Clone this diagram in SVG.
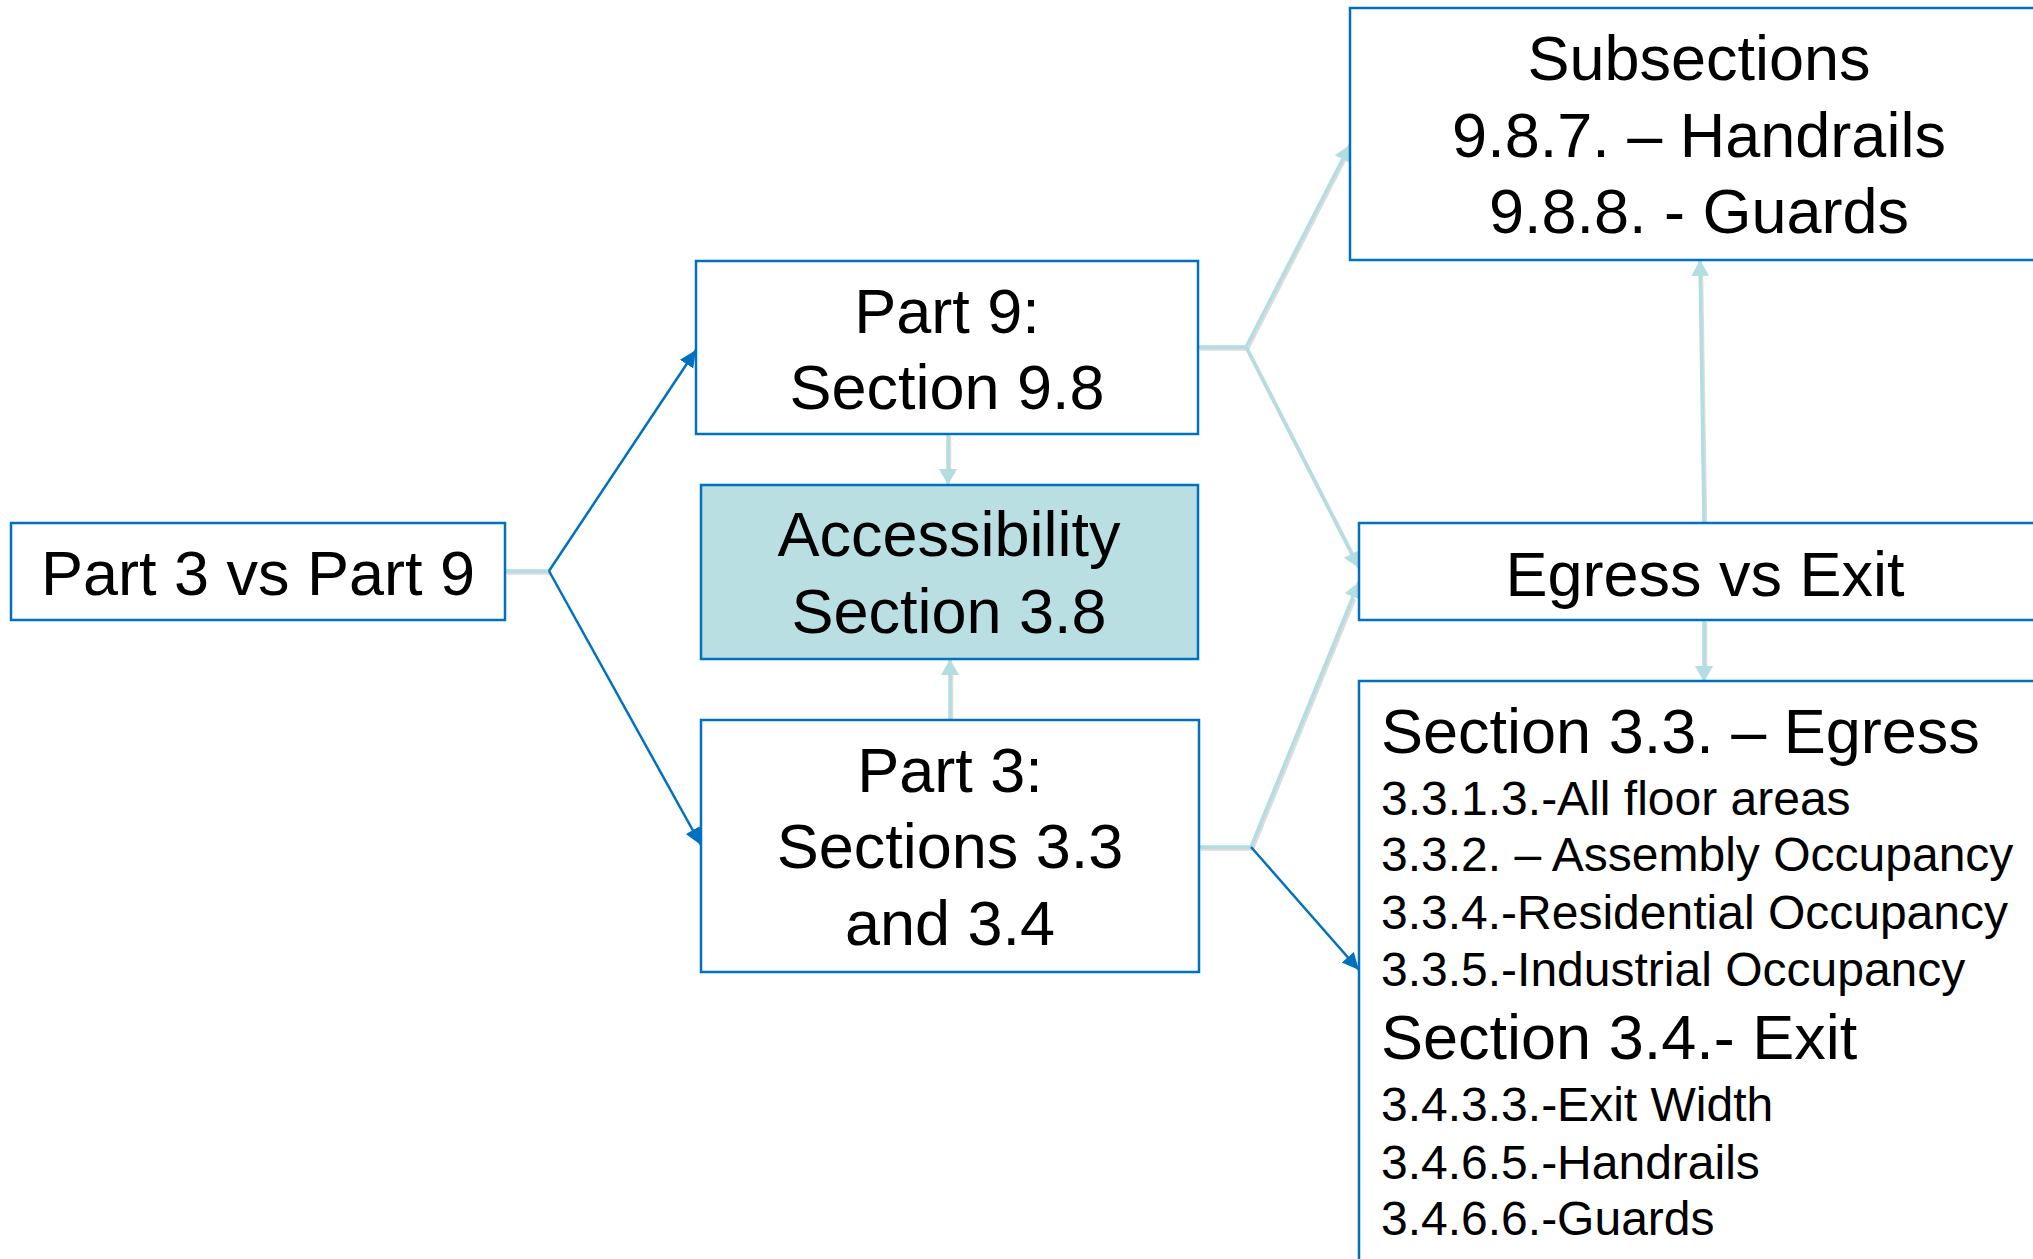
<svg xmlns="http://www.w3.org/2000/svg" width="2033" height="1259" viewBox="0 0 2033 1259">
<style>
.box{fill:#FFFFFF;stroke:#0070C0;stroke-width:2.5}
.fill{fill:#B9DFE3}
.t{font-family:"Liberation Sans",Arial,sans-serif;fill:#000000}
.big{font-size:63px}
.mid{font-size:63px}
.small{font-size:48px}
.c{text-anchor:middle}
.lt{fill:none;stroke:#B4DDE2;stroke-width:3.5}
.sh{fill:none;stroke:#9A9A9A;stroke-opacity:0.35;stroke-width:3.5}
.bl{fill:none;stroke:#0070C0;stroke-width:2.5}
</style>
<defs>
<marker id="ah-blue" markerUnits="userSpaceOnUse" markerWidth="18" markerHeight="18" refX="17" refY="9" orient="auto">
<path d="M0,1 L17,9 L0,17 z" fill="#0070C0"/>
</marker>
<marker id="ah-light" markerUnits="userSpaceOnUse" markerWidth="18" markerHeight="18" refX="16" refY="9" orient="auto">
<path d="M0,0 L16,9 L0,18 z" fill="#B4DDE2"/>
</marker>
</defs>
<g id="connectors">
<g transform="translate(1.5,2)">
<path class="sh" d="M505,571 H549"/>
<path class="sh" d="M948,434 V472"/>
<path class="sh" d="M950,720 V672"/>
<path class="sh" d="M1198,347 H1246 L1343,158"/>
<path class="sh" d="M1246,347 L1352,554"/>
<path class="sh" d="M1199,847 H1251 L1353,597"/>
<path class="sh" d="M1704,523 L1700,274"/>
<path class="sh" d="M1704,620 V668"/>
</g>
<path class="lt" d="M505,571 H549"/>
<path class="bl" d="M549,571 L696,350" marker-end="url(#ah-blue)"/>
<path class="bl" d="M549,571 L701,845" marker-end="url(#ah-blue)"/>
<path class="lt" d="M948,434 V485" marker-end="url(#ah-light)"/>
<path class="lt" d="M950,720 V659" marker-end="url(#ah-light)"/>
<path class="lt" d="M1198,347 H1246"/>
<path class="lt" d="M1246,347 L1350,145" marker-end="url(#ah-light)"/>
<path class="lt" d="M1246,347 L1359,568" marker-end="url(#ah-light)"/>
<path class="lt" d="M1199,847 H1251"/>
<path class="lt" d="M1251,847 L1359,582" marker-end="url(#ah-light)"/>
<path class="bl" d="M1251,847 L1359,970" marker-end="url(#ah-blue)"/>
<path class="lt" d="M1704,523 L1700,260" marker-end="url(#ah-light)"/>
<path class="lt" d="M1704,620 V682" marker-end="url(#ah-light)"/>
</g>
<g id="node-part3vs9">
<rect class="box" x="11" y="523" width="494" height="97"/>
<text class="t big c" x="258" y="595">Part 3 vs Part 9</text>
</g>
<g id="node-part9">
<rect class="box" x="696" y="261" width="502" height="173"/>
<text class="t big c" x="947" y="333">Part 9:</text>
<text class="t big c" x="947" y="409">Section 9.8</text>
</g>
<g id="node-accessibility">
<rect class="box fill" x="701" y="485" width="497" height="174"/>
<text class="t big c" x="949" y="556">Accessibility</text>
<text class="t big c" x="949" y="633">Section 3.8</text>
</g>
<g id="node-part3">
<rect class="box" x="701" y="720" width="498" height="252"/>
<text class="t big c" x="950" y="792">Part 3:</text>
<text class="t big c" x="950" y="868">Sections 3.3</text>
<text class="t big c" x="950" y="945">and 3.4</text>
</g>
<g id="node-subsections">
<rect class="box" x="1350" y="8" width="700" height="252"/>
<text class="t big c" x="1699" y="80">Subsections</text>
<text class="t big c" x="1699" y="157">9.8.7. – Handrails</text>
<text class="t big c" x="1699" y="233">9.8.8. - Guards</text>
</g>
<g id="node-egress">
<rect class="box" x="1359" y="523" width="700" height="97"/>
<text class="t big c" x="1705" y="596">Egress vs Exit</text>
</g>
<g id="node-sections">
<rect class="box" x="1359" y="681" width="700" height="620"/>
<text class="t mid" x="1381" y="753">Section 3.3. – Egress</text>
<text class="t small" x="1381" y="815">3.3.1.3.-All floor areas</text>
<text class="t small" x="1381" y="871">3.3.2. – Assembly Occupancy</text>
<text class="t small" x="1381" y="929">3.3.4.-Residential Occupancy</text>
<text class="t small" x="1381" y="986">3.3.5.-Industrial Occupancy</text>
<text class="t mid" x="1381" y="1059">Section 3.4.- Exit</text>
<text class="t small" x="1381" y="1121">3.4.3.3.-Exit Width</text>
<text class="t small" x="1381" y="1179">3.4.6.5.-Handrails</text>
<text class="t small" x="1381" y="1235">3.4.6.6.-Guards</text>
</g>
</svg>
